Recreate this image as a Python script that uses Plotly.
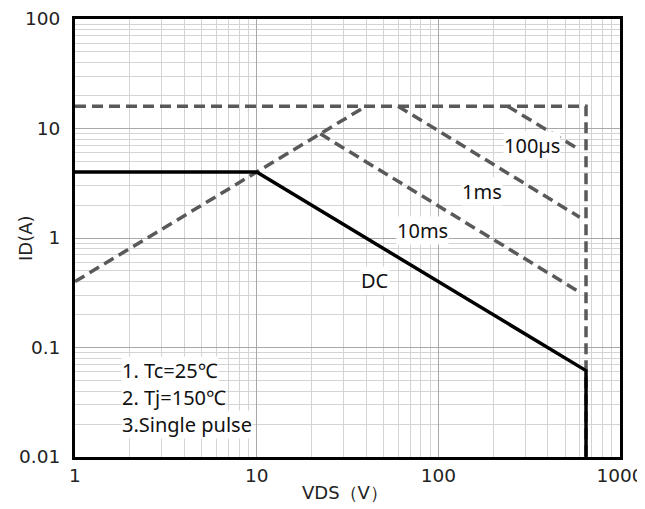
import math
import plotly.graph_objects as go

# ---- data ----
x_ticks = [1, 10, 100, 1000]
x_tick_text = ["1", "10", "100", "1000"]
y_ticks = [0.01, 0.1, 1, 10, 100]
y_tick_text = ["0.01", "0.1", "1", "10", "100"]

dc_v = [1, 10, 650, 650]
dc_i = [4, 4, 0.0615, 0.01]

rds_v = [1, 40]
rds_i = [0.4, 16]

env_v = [1, 650, 650]
env_i = [16, 16, 0.01]

ms10_v = [22.4, 600]
ms10_i = [8.94, 0.32]

ms1_v = [60, 600]
ms1_i = [16, 1.55]

us100_v = [240, 600]
us100_i = [16, 6.4]

label_text = ["100µs", "1ms", "10ms", "DC"]
label_x = [327, 174, 82, 45]
label_y = [6.97, 2.66, 1.17, 0.41]

notes = ["1. Tc=25℃", "2. Tj=150℃", "3.Single pulse"]
notes_x = 1.8
notes_y = [0.0614, 0.0349, 0.0198]

minor_vals = [m * 10 ** e for e in range(-2, 3) for m in range(2, 10)]

dash_color = "#595959"
dash_style = "11px,6px"

fig = go.Figure()
for xs, ys in [(env_v, env_i), (rds_v, rds_i), (ms10_v, ms10_i), (ms1_v, ms1_i), (us100_v, us100_i)]:
    fig.add_trace(go.Scatter(x=xs, y=ys, mode="lines",
                             line=dict(color=dash_color, width=3.5, dash=dash_style),
                             showlegend=False, hoverinfo="skip"))
fig.add_trace(go.Scatter(x=dc_v, y=dc_i, mode="lines",
                         line=dict(color="black", width=3.5),
                         showlegend=False, hoverinfo="skip"))

label_font = dict(family="Noto Sans", size=20, color="#111")
for t, xv, yv in zip(label_text, label_x, label_y):
    fig.add_annotation(x=math.log10(xv), y=math.log10(yv), xref="x", yref="y", text=t,
                       showarrow=False, font=label_font, bgcolor="white", borderpad=0)

for t, yv in zip(notes, notes_y):
    fig.add_annotation(x=math.log10(notes_x), y=math.log10(yv), xref="x", yref="y", text=t,
                       showarrow=False, xanchor="left", yanchor="middle", font=label_font,
                       bgcolor="white", borderpad=0)

# axis titles (placed as annotations so they sit where the reference has them)
title_font = dict(family="DejaVu Sans", size=18, color="#222")
fig.add_annotation(x=-0.0917, y=0.5, xref="paper", yref="paper", text="ID(A)",
                   xanchor="center", yanchor="middle",
                   textangle=-90, showarrow=False, font=title_font)
fig.add_annotation(x=0.495, y=-0.082, xref="paper", yref="paper", text="VDS（V）",
                   xanchor="center", yanchor="middle",
                   showarrow=False, font=title_font)

axis_common = dict(
    type="log",
    automargin=False,
    ticklabeloverflow="allow",
    showgrid=True, gridcolor="#a8a8a8", gridwidth=1,
    showline=True, linecolor="black", linewidth=3, mirror=True,
    ticks="", zeroline=False,
    tickfont=dict(family="DejaVu Sans", size=18.5, color="#222"),
    minor=dict(tickvals=minor_vals, showgrid=True, gridcolor="#d4d4d4", gridwidth=1, ticks=""),
)

fig.update_xaxes(**axis_common, range=[0, 3], tickvals=x_ticks, ticktext=x_tick_text,
                 ticklabelstandoff=0)
fig.update_yaxes(**axis_common, range=[-2, 2], tickvals=y_ticks, ticktext=y_tick_text,
                 ticklabelstandoff=8)

# the page adds an 8px body margin; size the figure so the plot area lands where the reference's does
fig.update_layout(
    width=637, height=501,
    margin=dict(l=67, r=25, t=11, b=52),
    paper_bgcolor="white", plot_bgcolor="white",
)

fig.write_html("out.html")
